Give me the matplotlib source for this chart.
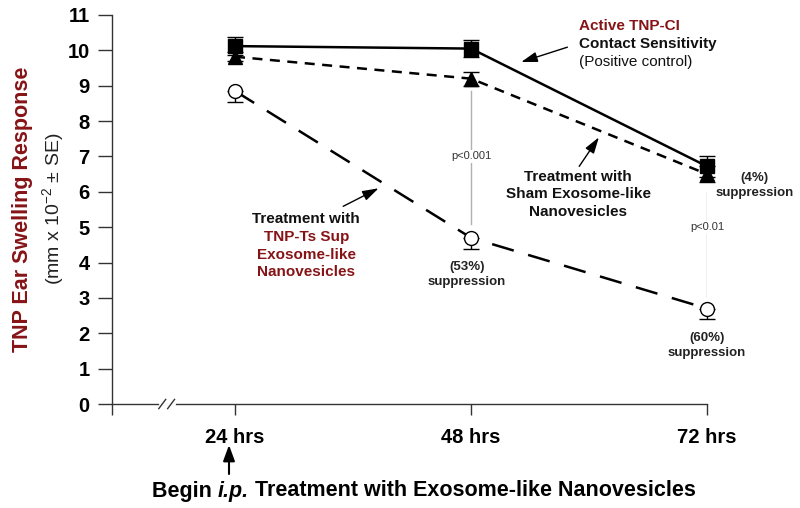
import matplotlib
matplotlib.use("Agg")
import matplotlib.pyplot as plt
from matplotlib import font_manager
import numpy as np

plt.rcParams['font.family'] = ['Liberation Sans', 'DejaVu Sans']
plt.rcParams['mathtext.fontset'] = 'custom'
plt.rcParams['mathtext.rm'] = 'Liberation Sans'
plt.rcParams['mathtext.it'] = 'Liberation Sans:italic'

names = {f.name for f in font_manager.fontManager.ttflist}
NARROW = [n for n in ['Liberation Sans Narrow', 'DejaVu Sans Condensed'] if n in names]
NARROW = NARROW + ['Liberation Sans']

# ---- data ----
hours = [24, 48, 72]
x_labels = ['24 hrs', '48 hrs', '72 hrs']
active = [10.12, 10.05, 6.72]
active_err = [0.25, 0.25, 0.3]
sham = [9.82, 9.2, 6.5]
sham_err = [0.12, 0.2, 0.22]
tnp_ts = [8.85, 4.7, 2.7]
tnp_ts_err = [0.3, 0.33, 0.3]
y_ticks = list(range(0, 12))

DARKRED = '#861417'

fig = plt.figure(figsize=(8, 5.08), dpi=100)
ax = fig.add_axes([0.14, 0.2047, 0.7438, 0.7658])
ax.set_xlim(11.49, 72)
ax.set_ylim(0, 11)

# p-value connector lines (gray)
ax.plot([48, 48], [8.85, 5.1], color='#b0b0b0', lw=1, zorder=1)
ax.plot([72, 72], [6.0, 3.05], color='#b0b0b0', lw=1, zorder=1)
ax.text(48, 7.0, 'p<0.001', ha='center', va='center', fontsize=8, color='#333333',
        bbox=dict(facecolor='white', edgecolor='none', pad=1), zorder=2)
ax.text(72, 5.0, 'p<0.01', ha='center', va='center', fontsize=8, color='#333333',
        bbox=dict(facecolor='white', edgecolor='none', pad=1), zorder=2, clip_on=False)

# series
ax.errorbar(hours, tnp_ts, yerr=[tnp_ts_err, [0, 0, 0]], fmt='o', color='black',
            mfc='white', mec='black', ms=10, mew=1, ecolor='black', elinewidth=1,
            capsize=6, capthick=1, ls=(0, (9, 6)), lw=1.8, zorder=3, clip_on=False)
ax.errorbar(hours, sham, yerr=sham_err, fmt='^', color='black', ms=10,
            ecolor='black', elinewidth=1, capsize=6, capthick=1,
            ls=(0, (4, 3)), lw=1.8, zorder=4, clip_on=False)
ax.errorbar(hours, active, yerr=active_err, fmt='s', color='black', ms=10,
            ecolor='black', elinewidth=1, capsize=6, capthick=1,
            ls='-', lw=1.8, zorder=5, clip_on=False)

# axes styling
for s in ['top', 'right']:
    ax.spines[s].set_visible(False)
for s in ['left', 'bottom']:
    ax.spines[s].set_linewidth(1)
    ax.spines[s].set_color('#333333')
ax.set_yticks(y_ticks)
ax.set_yticklabels([str(v) for v in y_ticks], fontsize=14.5, fontweight='bold')
ax.tick_params(axis='y', direction='out', length=10, width=1, pad=6, color='#333333')
ax.set_xticks([11.49] + hours)
ax.set_xticklabels([''] + x_labels, fontsize=14.5, fontweight='bold', family=NARROW)
ax.tick_params(axis='x', direction='out', length=8, width=1, pad=9, color='#333333')

# axis break marks
ax.plot([16.4, 17.8], [0, 0], color='white', lw=2, clip_on=False, zorder=5)
for xb in [16.6, 17.5]:
    ax.plot([xb - 0.35, xb + 0.35], [-0.13, 0.13], color='#333333', lw=1,
            clip_on=False, zorder=6)

# y labels
fig.text(0.028, 0.588, 'TNP Ear Swelling Response', rotation=90, ha='center',
         va='center', fontsize=15.5, fontweight='bold', color=DARKRED)
fig.text(0.066, 0.588, r'(mm x 10$^{\mathrm{-2}}$ $\pm$ SE)', rotation=90, ha='center',
         va='center', fontsize=14, color='#222222')

# annotations
ax.text(59.0, 10.69, 'Active TNP-CI', ha='left', va='center', fontsize=11,
        fontweight='bold', color=DARKRED)
ax.text(59.0, 10.18, 'Contact Sensitivity', ha='left', va='center', fontsize=11,
        fontweight='bold', color='#111111')
ax.text(59.0, 9.67, '(Positive control)', ha='left', va='center', fontsize=11,
        color='#111111')
arrow_kw = dict(arrowstyle='-|>,head_length=0.7,head_width=0.22', color='black', lw=1,
                mutation_scale=14, shrinkA=0, shrinkB=0)
ax.annotate('', xy=(53.1, 9.67), xytext=(57.8, 10.09), arrowprops=arrow_kw)

for txt, yy in zip(['Treatment with', 'Sham Exosome-like', 'Nanovesicles'],
                   [6.41, 5.93, 5.44]):
    ax.text(58.9, yy, txt, ha='center', va='center', fontsize=11,
            fontweight='bold', color='#111111')
ax.annotate('', xy=(61.0, 7.54), xytext=(59.0, 6.72), arrowprops=arrow_kw)

for txt, yy, c in zip(['Treatment with', 'TNP-Ts Sup', 'Exosome-like', 'Nanovesicles'],
                      [5.22, 4.73, 4.22, 3.74],
                      ['#111111', DARKRED, DARKRED, DARKRED]):
    ax.text(31.25, yy, txt, ha='center', va='center', fontsize=11,
            fontweight='bold', color=c)
ax.annotate('', xy=(38.6, 6.1), xytext=(35.0, 5.59), arrowprops=arrow_kw)

def supp(x, y1, pct):
    ax.text(x, y1, pct, ha='center', va='center', fontsize=9.5, fontweight='bold',
            color='#222222', clip_on=False)
    ax.text(x, y1 - 0.42, 'suppression', ha='center', va='center', fontsize=9.5,
            fontweight='bold', color='#222222', clip_on=False)

supp(47.6, 3.88, '(53%)')
supp(76.8, 6.38, '(4%)')
supp(72.0, 1.87, '(60%)')

# bottom caption composed of pieces (normal / italic / normal)
renderer = fig.canvas.get_renderer()
pieces = [('Begin ', 'normal'), ('i.p.', 'italic'),
          (' Treatment with Exosome-like Nanovesicles', 'normal')]
cap_fs = 15.5
texts = []
for s, st in pieces:
    t = fig.text(0, 1 - 491 / 508, s, ha='left', va='center', fontsize=cap_fs,
                 fontweight='bold', style=st, family=NARROW)
    texts.append(t)
widths = [t.get_window_extent(renderer).width for t in texts]
total = sum(widths)
x0 = 424 - total / 2
for t, w in zip(texts, widths):
    t.set_x(x0 / 800)
    x0 += w

fig.patches.append(matplotlib.patches.FancyArrowPatch(
    (229 / 800, 1 - 474 / 508), (229 / 800, 1 - 445 / 508),
    transform=fig.transFigure, arrowstyle='-|>,head_length=0.6,head_width=0.22',
    mutation_scale=16, lw=1.5, color='black', shrinkA=0, shrinkB=0))

fig.savefig('out.png', dpi=100)
